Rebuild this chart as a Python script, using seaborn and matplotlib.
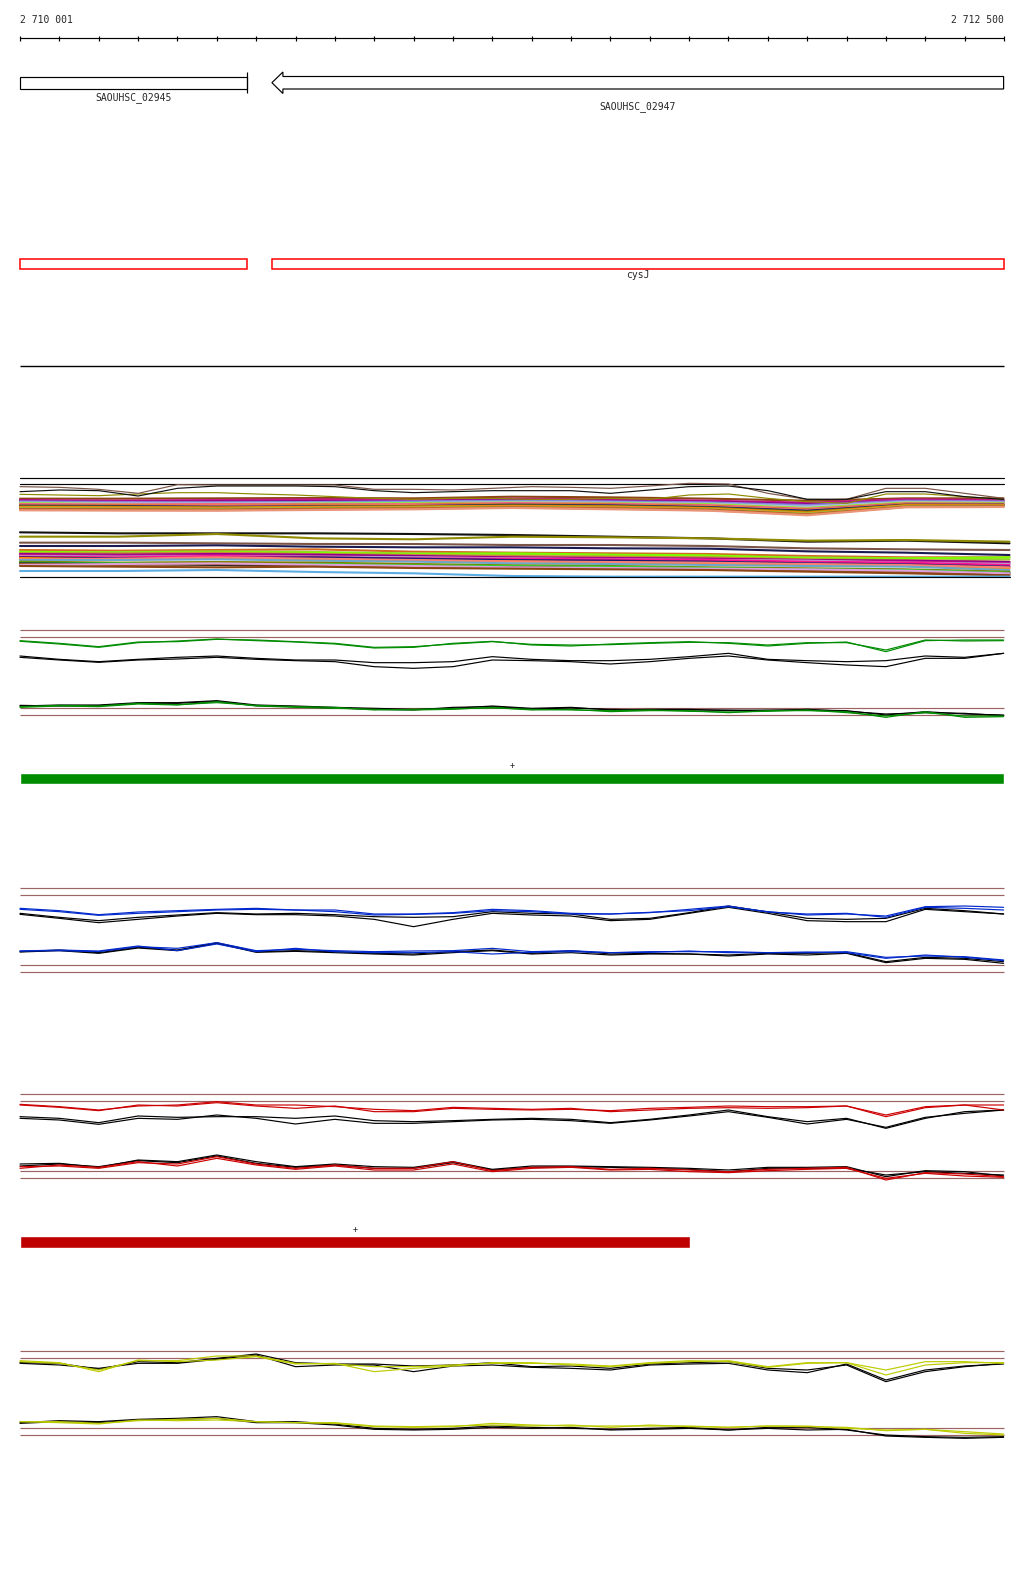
import numpy as np
import pandas as pd
import matplotlib
matplotlib.use("Agg")
import matplotlib.pyplot as plt
from matplotlib.patches import Rectangle, Polygon
import seaborn as sns

# ---------------- data ----------------
START, END = 2710001, 2712500
POS26 = [2710001, 2710101, 2710201, 2710301, 2710401, 2710501, 2710601, 2710701,
         2710801, 2710901, 2711001, 2711101, 2711201, 2711301, 2711401, 2711501,
         2711601, 2711701, 2711801, 2711901, 2712001, 2712101, 2712201, 2712301,
         2712401, 2712500]
POS11 = [2710001, 2710251, 2710501, 2710751, 2711001, 2711251, 2711501, 2711751,
         2712001, 2712251, 2712500]
POS11B = [2710001, 2710251, 2710501, 2710751, 2711001, 2711251, 2711501, 2711751,
          2712001, 2712251, 2712515]

gene_names = ["SAOUHSC_02945", "SAOUHSC_02947"]
gene_starts = [2710001, 2710641]
gene_ends = [2710578, 2712500]
gene_strands = ["+", "-"]
operon_starts = [2710001, 2710641]
operon_ends = [2710578, 2712500]
operon_label = "cysJ"

# multi-sample block 1 (top wavy lines)
blk1_brown = [50, 52, 58, 70, 44, 45, 45, 45, 45, 58, 58, 60, 55, 50, 52, 55, 48, 40, 42, 70, 88, 88, 55, 55, 70, 85]
blk1_black = [65, 60, 62, 78, 55, 48, 48, 48, 50, 62, 68, 65, 62, 62, 62, 70, 60, 50, 48, 62, 88, 88, 65, 65, 80, 88]
blk1_olive = [73, 75, 77, 72, 68, 68, 72, 75, 80, 85, 88, 85, 85, 88, 88, 85, 88, 75, 72, 85, 95, 100, 72, 72, 80, 88]
blk1_flat = [25, 43]
blk1_band = {
    "#8B4513": [86, 86, 85, 84, 85, 80, 82, 86, 92, 85, 85],
    "#C71585": [90, 92, 90, 88, 90, 86, 88, 92, 98, 88, 90],
    "#8B008B": [92, 95, 94, 93, 93, 90, 92, 95, 102, 92, 93],
    "#9370DB": [94, 96, 97, 96, 94, 92, 94, 97, 105, 92, 94],
    "#6CA6CD": [96, 99, 98, 97, 96, 94, 96, 99, 108, 95, 97],
    "#B8B8E0": [98, 100, 100, 99, 99, 96, 98, 101, 110, 96, 98],
    "#7CFC00": [100, 102, 104, 101, 100, 98, 100, 103, 114, 98, 99],
    "#FF69B4": [102, 103, 102, 103, 102, 99, 101, 105, 116, 100, 101],
    "#D2691E": [104, 105, 104, 104, 104, 101, 103, 107, 118, 101, 102],
    "#FA8072": [106, 107, 106, 107, 106, 103, 105, 109, 120, 103, 103],
    "#191970": [107, 108, 110, 109, 108, 104, 106, 111, 122, 104, 104],
    "#808000": [109, 110, 112, 110, 109, 106, 108, 113, 125, 105, 105],
    "#FF8C00": [111, 112, 113, 111, 110, 108, 110, 115, 128, 106, 106],
    "#CD853F": [113, 114, 115, 113, 112, 110, 112, 117, 130, 108, 107],
    "#9ACD32": [115, 116, 117, 114, 113, 111, 114, 118, 131, 109, 108],
    "#A0522D": [117, 118, 119, 116, 115, 112, 115, 119, 133, 110, 109],
    "#E07030": [119, 120, 121, 118, 116, 113, 116, 121, 134, 111, 110],
    "#E9967A": [121, 122, 122, 120, 118, 114, 118, 122, 136, 112, 111],
}
# multi-sample block 2
blk2_band = {
    "#111111": [187, 190, 190, 190, 192, 195, 200, 205, 215, 212, 220],
    "#8F8A00": [200, 200, 192, 205, 208, 200, 202, 205, 212, 210, 215],
    "#7B5548": [218, 218, 220, 222, 222, 225, 225, 228, 235, 238, 240],
    "#1A1A50": [228, 228, 226, 230, 232, 232, 235, 236, 244, 248, 255],
    "#D2691E": [240, 242, 240, 238, 245, 248, 250, 252, 258, 262, 262],
    "#9ACD32": [248, 246, 244, 246, 250, 252, 255, 258, 262, 265, 268],
    "#7CFC00": [245, 248, 246, 248, 252, 250, 254, 256, 265, 265, 262],
    "#CD853F": [250, 250, 248, 252, 255, 258, 260, 262, 268, 270, 275],
    "#8B008B": [252, 254, 252, 254, 258, 262, 264, 266, 270, 272, 276],
    "#C71585": [255, 257, 256, 258, 262, 264, 266, 268, 272, 275, 280],
    "#B0B0D8": [258, 260, 258, 260, 262, 265, 268, 270, 272, 278, 282],
    "#FF1493": [260, 262, 258, 262, 265, 266, 268, 270, 275, 278, 285],
    "#191970": [262, 265, 264, 262, 266, 270, 272, 275, 280, 283, 290],
    "#FF8C00": [264, 268, 266, 268, 272, 274, 278, 280, 285, 288, 295],
    "#FA8072": [268, 266, 262, 266, 270, 274, 276, 278, 282, 285, 292],
    "#6CA6CD": [270, 270, 268, 272, 275, 280, 282, 285, 288, 290, 300],
    "#808000": [275, 278, 276, 278, 282, 286, 288, 292, 295, 298, 305],
    "#32CD32": [278, 280, 284, 282, 286, 288, 290, 294, 298, 300, 308],
    "#222222": [280, 282, 285, 288, 290, 292, 295, 298, 300, 305, 310],
    "#A0522D": [282, 285, 282, 285, 290, 292, 295, 298, 300, 305, 312],
    "#DDA0DD": [285, 282, 280, 284, 288, 292, 294, 296, 298, 302, 310],
    "#8B4513": [288, 290, 292, 290, 294, 296, 298, 300, 305, 310, 316],
    "#5DADE2": [303, 303, 300, 306, 310, 318, 320, 320, 320, 320, 320],
}
blk2_flat = [322]

# condition tracks: (replicate 1, replicate 2) for colored sample and black control
green_up = [[62, 70, 80, 66, 65, 58, 60, 65, 70, 82, 80, 72, 65, 73, 75, 74, 70, 67, 68, 75, 68, 68, 90, 60, 63, 62],
            [64, 72, 82, 68, 63, 57, 62, 66, 72, 84, 82, 70, 64, 75, 78, 72, 68, 65, 70, 78, 70, 66, 95, 62, 60, 60]]
green_up_ctl = [[108, 118, 125, 118, 112, 108, 115, 120, 120, 128, 128, 125, 110, 118, 122, 122, 118, 110, 100, 118, 122, 125, 122, 108, 112, 100],
                [112, 120, 127, 120, 117, 112, 118, 122, 125, 140, 145, 140, 120, 122, 125, 132, 125, 115, 108, 120, 128, 135, 140, 115, 115, 100]]
green_lo = [[262, 258, 260, 252, 255, 245, 258, 262, 265, 268, 270, 268, 262, 270, 268, 275, 272, 272, 278, 272, 272, 275, 292, 275, 292, 290],
            [260, 256, 258, 250, 254, 248, 256, 260, 262, 270, 268, 266, 264, 268, 270, 272, 270, 274, 276, 274, 270, 278, 288, 278, 288, 288]]
green_lo_ctl = [[258, 255, 255, 248, 248, 242, 255, 258, 262, 265, 268, 265, 258, 265, 262, 270, 268, 268, 272, 270, 270, 272, 285, 275, 282, 285],
                [256, 258, 257, 250, 250, 244, 257, 260, 264, 268, 270, 262, 260, 267, 264, 268, 270, 270, 270, 272, 268, 274, 282, 278, 280, 287]]
green_ref = [31, 52, 265, 286]

blue_up = [[85, 92, 104, 96, 92, 88, 85, 90, 90, 102, 102, 98, 88, 92, 100, 102, 97, 92, 80, 95, 105, 102, 108, 80, 78, 82],
           [88, 95, 106, 100, 95, 90, 88, 90, 95, 105, 103, 100, 92, 95, 102, 102, 98, 88, 78, 96, 102, 100, 112, 82, 85, 90]]
blue_up_ctl = [[100, 112, 122, 112, 105, 98, 102, 100, 104, 110, 112, 110, 95, 100, 102, 118, 115, 98, 78, 96, 115, 118, 115, 85, 92, 102],
               [103, 115, 128, 118, 108, 100, 104, 104, 108, 118, 140, 118, 100, 105, 108, 122, 118, 100, 82, 100, 122, 125, 125, 88, 95, 102]]
blue_lo = [[213, 212, 215, 200, 205, 188, 212, 208, 212, 215, 213, 212, 205, 215, 212, 218, 215, 215, 215, 218, 218, 215, 232, 228, 230, 240],
           [213, 210, 213, 198, 212, 192, 215, 205, 215, 218, 218, 215, 222, 217, 215, 218, 217, 213, 218, 218, 216, 218, 235, 225, 232, 242]]
blue_lo_ctl = [[215, 210, 218, 202, 210, 188, 215, 212, 215, 220, 222, 215, 210, 220, 212, 222, 220, 222, 225, 220, 220, 218, 245, 232, 235, 245],
               [216, 212, 220, 204, 212, 190, 217, 214, 218, 222, 225, 218, 212, 222, 218, 225, 222, 222, 228, 222, 225, 220, 248, 235, 238, 250]]
blue_ref = [25, 46, 256, 277]

red_up = [[43, 50, 60, 48, 45, 35, 45, 45, 50, 58, 62, 52, 55, 58, 55, 65, 60, 55, 53, 55, 53, 48, 80, 53, 45, 60],
          [45, 52, 62, 45, 48, 38, 48, 55, 48, 65, 65, 55, 58, 60, 58, 62, 55, 52, 48, 50, 50, 48, 75, 50, 45, 45]]
red_up_ctl = [[80, 85, 98, 78, 82, 80, 80, 85, 78, 92, 95, 92, 88, 85, 88, 98, 88, 75, 60, 80, 95, 85, 115, 85, 65, 60],
              [85, 90, 103, 85, 88, 75, 85, 102, 88, 100, 100, 95, 90, 88, 92, 100, 90, 78, 65, 82, 102, 88, 112, 82, 70, 60]]
red_lo = [[230, 228, 235, 218, 222, 200, 222, 235, 225, 235, 235, 215, 242, 232, 230, 238, 235, 240, 245, 238, 235, 232, 270, 248, 252, 260],
          [235, 225, 232, 215, 228, 205, 225, 238, 228, 240, 240, 222, 245, 235, 232, 240, 238, 245, 248, 242, 238, 235, 265, 250, 258, 262]]
red_lo_ctl = [[222, 220, 232, 210, 215, 195, 215, 230, 222, 230, 232, 215, 238, 228, 228, 230, 232, 235, 240, 232, 232, 230, 260, 242, 245, 258],
              [228, 222, 230, 212, 218, 198, 220, 232, 225, 235, 235, 218, 240, 232, 230, 232, 235, 238, 245, 235, 235, 235, 255, 245, 250, 255]]
red_ref = [13, 34, 244, 265]

yel_up = [[62, 68, 95, 60, 65, 60, 50, 72, 70, 95, 85, 78, 68, 68, 75, 80, 70, 65, 62, 80, 68, 68, 105, 75, 68, 68],
          [65, 70, 90, 62, 62, 48, 48, 70, 72, 80, 80, 75, 70, 70, 72, 78, 68, 62, 65, 82, 70, 68, 90, 65, 65, 70]]
yel_up_ctl = [[68, 70, 88, 65, 68, 55, 42, 68, 72, 72, 78, 75, 68, 80, 78, 85, 72, 68, 65, 85, 90, 75, 125, 95, 80, 70],
              [70, 75, 85, 70, 70, 58, 45, 80, 75, 75, 95, 78, 75, 82, 85, 90, 75, 72, 70, 90, 98, 72, 120, 90, 78, 72]]
yel_lo = [[245, 245, 250, 242, 238, 235, 245, 248, 250, 260, 262, 260, 250, 255, 258, 258, 258, 258, 262, 258, 260, 262, 272, 268, 275, 282],
          [245, 248, 252, 240, 242, 240, 245, 248, 248, 258, 260, 258, 255, 258, 255, 262, 255, 260, 262, 258, 258, 265, 270, 268, 280, 285]]
yel_lo_ctl = [[248, 242, 245, 238, 235, 230, 245, 245, 252, 265, 268, 265, 258, 262, 265, 268, 265, 262, 270, 262, 262, 270, 285, 290, 292, 290],
              [250, 245, 248, 240, 238, 235, 248, 248, 255, 268, 270, 268, 262, 265, 262, 270, 268, 265, 270, 265, 270, 268, 288, 292, 295, 292]]
yel_ref = [34, 55, 265, 286]

green_bar = (2710001, 2712500)
red_bar = (2710001, 2711703)

# ---------------- layout / style ----------------
W, H = 1024, 1589
BPP = 2499 / 983.6
X0 = START - 20 * BPP
X1 = X0 + W * BPP

sns.set_theme(style="white")
plt.rcParams["font.family"] = ["DejaVu Sans Mono", "DejaVu Sans"]

fig = plt.figure(figsize=(W / 100, H / 100), dpi=100)
ax = fig.add_axes([0, 0, 1, 1])

FS = 7
LW = 0.85
BAND_LW = 1.5

palette = {}
order = []


def add_series(key, xs, vals, top, color, store):
    palette[key] = color
    order.append(key)
    for x, v in zip(xs, vals):
        store.append((x, top + v / 3.0, key))


band_rows = []
sig_rows = []
for col, vals in blk1_band.items():
    add_series(f"b1_{col}", POS11, vals, 470, col, band_rows)
for col, vals in blk2_band.items():
    add_series(f"b2_{col}", POS11B, vals, 470, col, band_rows)

for i, v in enumerate(blk1_flat):
    add_series(f"b1flat{i}", [START, END], [v, v], 470, "black", sig_rows)
add_series("b1olive", POS26, blk1_olive, 470, "#8F8A00", sig_rows)
add_series("b1brown", POS26, blk1_brown, 470, "#7B5548", sig_rows)
add_series("b1black", POS26, blk1_black, 470, "#111111", sig_rows)
add_series("b2flat", [START, 2712515], [blk2_flat[0], blk2_flat[0]], 470, "black", sig_rows)

sections = [
    ("green", 620, green_up, green_up_ctl, green_lo, green_lo_ctl, green_ref, "#008C00"),
    ("blue", 880, blue_up, blue_up_ctl, blue_lo, blue_lo_ctl, blue_ref, "#0028CC"),
    ("red", 1090, red_up, red_up_ctl, red_lo, red_lo_ctl, red_ref, "#CC0000"),
    ("yel", 1340, yel_up, yel_up_ctl, yel_lo, yel_lo_ctl, yel_ref, "#BDCC00"),
]
for name, top, up, upc, lo, loc, ref, col in sections:
    ax.hlines([top + r / 3.0 for r in ref], START, END, color="#9C6363", lw=LW)
    for j in range(2):
        add_series(f"{name}_upc{j}", POS26, upc[j], top, "black", sig_rows)
        add_series(f"{name}_loc{j}", POS26, loc[j], top, "black", sig_rows)
    for j in range(2):
        add_series(f"{name}_up{j}", POS26, up[j], top, col, sig_rows)
        add_series(f"{name}_lo{j}", POS26, lo[j], top, col, sig_rows)

band_df = pd.DataFrame(band_rows, columns=["pos", "y", "series"])
sig_df = pd.DataFrame(sig_rows, columns=["pos", "y", "series"])
band_keys = [k for k in order if k in set(band_df["series"])]
sig_keys = [k for k in order if k in set(sig_df["series"])]
sns.lineplot(data=band_df, x="pos", y="y", hue="series", hue_order=band_keys,
             palette={k: palette[k] for k in band_keys},
             estimator=None, sort=False, legend=False, lw=BAND_LW, ax=ax)
sns.lineplot(data=sig_df, x="pos", y="y", hue="series", hue_order=sig_keys,
             palette={k: palette[k] for k in sig_keys},
             estimator=None, sort=False, legend=False, lw=LW, ax=ax)

ax.set_xlim(X0, X1)
ax.set_ylim(H, 0)
ax.axis("off")

# ruler
ax.hlines(38, START, END, color="black", lw=LW)
ticks = list(range(START, END, 100)) + [END]
ax.vlines(ticks, 35.5, 40.5, color="black", lw=LW)
ax.text(START, 20, "2 710 001", ha="left", va="center", fontsize=FS)
ax.text(END, 20, "2 712 500", ha="right", va="center", fontsize=FS)

# genes
label_y = [97.5, 106.5]
for name, s, e, st, ly in zip(gene_names, gene_starts, gene_ends, gene_strands, label_y):
    if st == "+":
        ax.add_patch(Rectangle((s, 76.5), e - s, 12.5, fill=False, ec="black", lw=LW))
        ax.vlines(e, 72, 93, color="black", lw=LW)
    else:
        hb = s + 11 * BPP
        poly = [(s, 82.7), (hb, 72), (hb, 76.5), (e, 76.5), (e, 89), (hb, 89), (hb, 93.5)]
        ax.add_patch(Polygon(poly, closed=True, fill=False, ec="black", lw=LW))
    ax.text((s + e) / 2, ly, name, ha="center", va="center", fontsize=FS)

# operon boxes
for s, e in zip(operon_starts, operon_ends):
    ax.add_patch(Rectangle((s, 259), e - s, 9.5, fill=False, ec="#FF0000", lw=1.1))
ax.text((operon_starts[1] + operon_ends[1]) / 2, 275.5, operon_label, ha="center", va="center", fontsize=FS)

ax.hlines(366, START, END, color="black", lw=1.0)

# strand bars
ax.barh(778.5, green_bar[1] - green_bar[0], left=green_bar[0], height=11.5, color="#008C00")
ax.text((green_bar[0] + green_bar[1]) / 2, 766, "+", ha="center", va="center", fontsize=6)
ax.barh(1242, red_bar[1] - red_bar[0], left=red_bar[0], height=11.5, color="#BF0000")
ax.text((red_bar[0] + red_bar[1]) / 2, 1229, "+", ha="center", va="center", fontsize=6)

fig.savefig("out.png", dpi=100, facecolor="white")
